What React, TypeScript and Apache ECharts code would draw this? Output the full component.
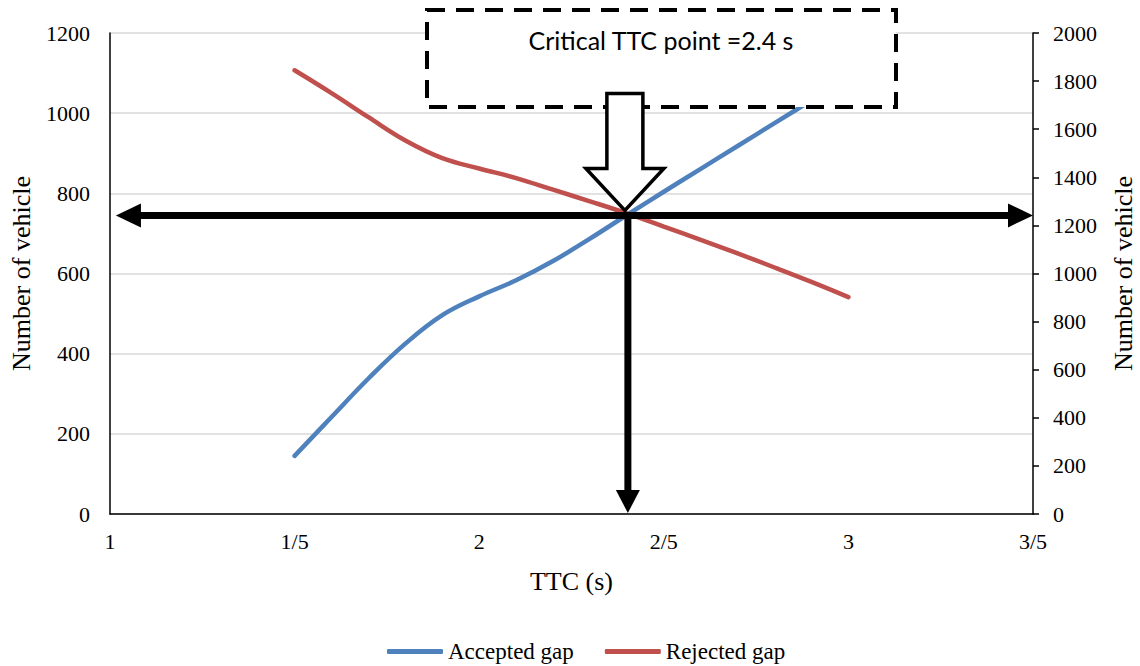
import React, { useEffect, useRef } from "react";
import * as echarts from "echarts";

// TTC values (s) at which the curves were read
const ttc = [1.5, 1.6, 1.7, 1.8, 1.9, 2.0, 2.1, 2.2, 2.3, 2.4, 2.5, 2.6, 2.7, 2.8, 2.9, 3.0];
// Number of vehicles
const acceptedGap = [145, 242, 338, 425, 496, 543, 583, 631, 687, 746, 804, 861, 918, 975, 1032, 1090];
const rejectedGap = [1107, 1050, 990, 932, 888, 862, 838, 809, 780, 750, 717, 684, 650, 615, 579, 541];

// x tick labels (decimal point written as "/")
const xTickLabels = ["1", "1/5", "2", "2/5", "3", "3/5"];

const seriesNames = ["Accepted gap", "Rejected gap"];
const criticalTTC = 2.4;
const criticalCount = 745;
const annotationText = "Critical TTC point =2.4 s";

export default function App() {
  const ref = useRef<HTMLDivElement>(null);

  useEffect(() => {
    document.body.style.margin = "0";
    const chart = echarts.init(ref.current!, null, { renderer: "svg" });
    const serif = "Liberation Serif";

    const axisLabelStyle = { fontSize: 22, color: "#000", fontFamily: serif };
    const nameStyle = { fontSize: 26, color: "#000", fontFamily: serif };

    chart.setOption({
      animation: false,
      textStyle: { fontFamily: serif, color: "#000" },
      grid: {
        left: 110,
        right: 107,
        top: 33,
        bottom: 152,
        containLabel: false,
        outerBoundsMode: "none",
      },
      xAxis: {
        type: "value",
        min: 1,
        max: 3.5,
        interval: 0.5,
        name: "TTC (s)",
        nameLocation: "middle",
        nameGap: 54,
        nameTextStyle: nameStyle,
        axisLine: { show: true, onZero: false, lineStyle: { color: "#000", width: 1.5 } },
        axisTick: { show: false },
        splitLine: { show: false },
        axisLabel: {
          ...axisLabelStyle,
          margin: 16,
          formatter: (v: number) => xTickLabels[Math.round((v - 1) / 0.5)] ?? "",
        },
      },
      yAxis: [
        {
          type: "value",
          min: 0,
          max: 1200,
          interval: 200,
          position: "left",
          name: "Number of vehicle",
          nameLocation: "middle",
          nameGap: 76,
          nameRotate: 90,
          nameTextStyle: nameStyle,
          axisLine: { show: true, onZero: false, lineStyle: { color: "#000", width: 1.5 } },
          axisTick: { show: false },
          splitLine: { show: true, lineStyle: { color: "#d9d9d9", width: 1.5 } },
          axisLabel: { ...axisLabelStyle, margin: 20, formatter: (v: number) => String(v) },
        },
        {
          type: "value",
          min: 0,
          max: 2000,
          interval: 200,
          position: "right",
          name: "Number of vehicle",
          nameLocation: "middle",
          nameGap: 77,
          nameRotate: 90,
          nameTextStyle: nameStyle,
          axisLine: { show: true, onZero: false, lineStyle: { color: "#000", width: 1.5 } },
          axisTick: { show: true, length: 6, lineStyle: { color: "#000", width: 1.5 } },
          splitLine: { show: false },
          axisLabel: { ...axisLabelStyle, margin: 20, formatter: (v: number) => String(v) },
        },
      ],
      legend: {
        left: 382,
        top: 635,
        icon: "roundRect",
        itemWidth: 56,
        itemHeight: 5,
        itemGap: 31,
        textStyle: { fontSize: 23, color: "#000", fontFamily: serif },
        data: seriesNames,
      },
      series: [
        {
          name: seriesNames[0],
          type: "line",
          yAxisIndex: 0,
          data: ttc.map((t, i) => [t, acceptedGap[i]]),
          smooth: 0.4,
          symbol: "none",
          color: "#4F81BD",
          lineStyle: { width: 4.5, color: "#4F81BD", cap: "round" },
        },
        {
          name: seriesNames[1],
          type: "line",
          yAxisIndex: 0,
          data: ttc.map((t, i) => [t, rejectedGap[i]]),
          smooth: 0.4,
          symbol: "none",
          color: "#C0504D",
          lineStyle: { width: 4.5, color: "#C0504D", cap: "round" },
        },
      ],
    });

    const toPx = (x: number, y: number) =>
      chart.convertToPixel({ gridIndex: 0 }, [x, y]) as number[];
    const [lx, cy] = toPx(1.016, criticalCount);
    const [rx] = toPx(3.5, criticalCount);
    const [cx] = toPx(criticalTTC, criticalCount);
    const [, by] = toPx(criticalTTC, 0);

    const headL = 25;
    const headH = 12;
    const black = "#000";

    chart.setOption({
      graphic: [
        // horizontal double arrow
        {
          type: "line",
          z: 100,
          shape: { x1: lx + headL - 2, y1: cy, x2: rx - headL + 2, y2: cy },
          style: { stroke: black, lineWidth: 7 },
        },
        {
          type: "polygon",
          z: 100,
          shape: { points: [[lx, cy], [lx + headL, cy - headH], [lx + headL, cy + headH]] },
          style: { fill: black },
        },
        {
          type: "polygon",
          z: 100,
          shape: { points: [[rx, cy], [rx - headL, cy - headH], [rx - headL, cy + headH]] },
          style: { fill: black },
        },
        // vertical arrow down to the x axis
        {
          type: "line",
          z: 100,
          shape: { x1: cx + 1, y1: cy, x2: cx + 1, y2: by - 22 },
          style: { stroke: black, lineWidth: 7 },
        },
        {
          type: "polygon",
          z: 100,
          shape: { points: [[cx + 1, by - 1], [cx + 1 - 12, by - 24], [cx + 1 + 12, by - 24]] },
          style: { fill: black },
        },
        // hollow block arrow
        {
          type: "polygon",
          z: 101,
          shape: {
            points: [
              [cx - 20, cy - 122],
              [cx + 16, cy - 122],
              [cx + 16, cy - 47],
              [cx + 37, cy - 47],
              [cx - 2, cy - 5],
              [cx - 41, cy - 47],
              [cx - 20, cy - 47],
            ],
          },
          style: { fill: "#fff", stroke: black, lineWidth: 3.5, lineJoin: "miter" },
        },
        // dashed annotation box
        {
          type: "rect",
          z: 100,
          shape: { x: 427, y: 10, width: 469, height: 97 },
          style: { fill: "#fff", stroke: black, lineWidth: 4, lineDash: [18, 11] },
        },
        {
          type: "text",
          z: 102,
          x: 661,
          y: 40,
          style: {
            text: annotationText,
            fill: black,
            font: "25px Lato, 'Open Sans', sans-serif",
            textAlign: "center",
            textVerticalAlign: "middle",
          },
        },
      ],
    });

    return () => chart.dispose();
  }, []);

  return <div ref={ref} style={{ width: 1140, height: 666 }} />;
}
